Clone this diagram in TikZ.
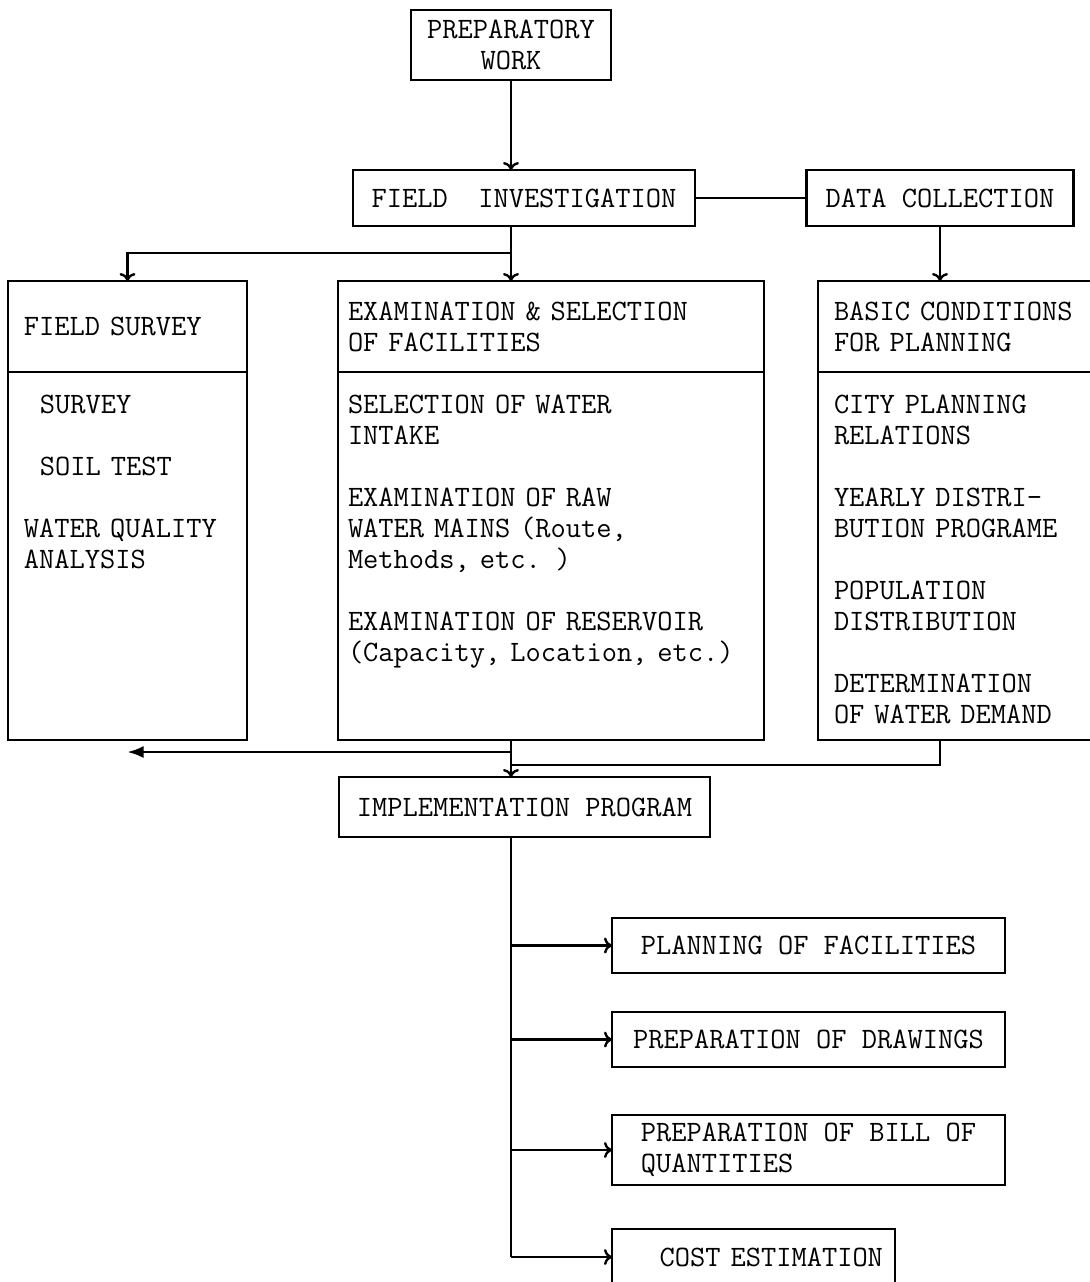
\documentclass[tikz,border=0pt]{standalone}
\usepackage{fontspec}
\usetikzlibrary{arrows,arrows.meta,positioning}
\newcommand{\tyfont}{\fontsize{14.8pt}{15.5pt}\selectfont\ttfamily}

\begin{document}
\begin{tikzpicture}[x=0.5pt, y=-0.5pt, >={To[length=4pt,width=8pt]}, line width=1.2pt,
		box/.style={draw, font=\tyfont, inner xsep=8pt, inner ysep=0pt, outer sep=0pt},
		sbox/.style={box, minimum height=28pt},
		head/.style={box, anchor=north west, align=left, minimum height=45.5pt},
		body/.style={box, below=0pt of #1, align=left, text height=20.5pt, text depth=163.5pt}]
	\useasboundingbox (0,0) rectangle (1089,1282);
	% top row
	\node[box, minimum width=93.5pt, minimum height=35pt, align=center] (prep) at (511,45) {PREPARATORY\\WORK};
	\node[sbox, minimum width=171pt] (fi) at (524,198) {FIELD\ \ INVESTIGATION};
	\node[sbox, minimum width=133.5pt] (dc) at (940,198) {DATA COLLECTION};
	\coordinate (split) at (511,253);
	% three columns
	\node[head, text width=103.5pt] (fshead) at (8,281) {FIELD SURVEY};
	\node[body=fshead, text width=103.5pt] (fsbody) {\hspace*{8pt}SURVEY\\[15.5pt]\hspace*{8pt}SOIL TEST\\[15.5pt]WATER QUALITY\\ANALYSIS};
	\node[head, inner xsep=5pt, text width=203pt] (exhead) at (338,281) {EXAMINATION \& SELECTION\\OF FACILITIES};
	\node[body=exhead, inner xsep=5pt, text width=203pt] (exbody) {SELECTION OF WATER\\INTAKE\\[15.5pt]EXAMINATION OF RAW\\WATER MAINS (Route,\\Methods, etc. )\\[15.5pt]EXAMINATION OF RESERVOIR\\(Capacity, Location, etc.)};
	\node[head, text width=125pt] (bshead) at (818,281) {BASIC CONDITIONS\\FOR PLANNING};
	\node[body=bshead, text width=125pt] (bsbody) {CITY PLANNING\\RELATIONS\\[15.5pt]YEARLY DISTRI-\\BUTION PROGRAME\\[15.5pt]POPULATION\\DISTRIBUTION\\[15.5pt]DETERMINATION\\OF WATER DEMAND};
	% implementation
	\node[sbox, minimum width=185.5pt, minimum height=30pt] (impl) at (524.5,807) {IMPLEMENTATION PROGRAM};
	\node[sbox, minimum width=196.5pt, minimum height=27.5pt] (plan) at (808.5,945.5) {PLANNING OF FACILITIES};
	\node[sbox, minimum width=196.5pt, minimum height=27.5pt] (drw) at (808.5,1039.5) {PREPARATION OF DRAWINGS};
	\node[box, minimum width=196.5pt, minimum height=35pt, align=left] (bill) at (808.5,1150) {PREPARATION OF BILL OF\\QUANTITIES};
	\node[sbox, inner xsep=6pt, text width=129.5pt, align=right] (cost) at (753.5,1257) {COST ESTIMATION};

	\draw[->] (prep) -- (prep.south |- fi.north);
	\draw (fi) -- (dc);
	\draw (split |- fi.south) -- (split);
	\draw[->] (split) -| (fshead.north);
	\draw[->] (split) -- (split |- exhead.north);
	\draw[->] (dc) -- (dc.south |- bshead.north);
	% feedback and merge
	\coordinate (back) at (511,752);
	\coordinate (join) at (511,765);
	\draw[->] (split |- exbody.south) -- (split |- impl.north);
	\draw[-{Latex[length=8pt,width=6pt]}] (back) -- (back -| fsbody.south);
	\draw (dc.south |- bsbody.south) |- (join);
	% outputs
	\draw (split |- impl.south) -- (split |- cost.west);
	\foreach \n in {plan,drw,bill,cost}
		\draw[->] (split |- \n.west) -- (\n.west);
\end{tikzpicture}
\end{document}
